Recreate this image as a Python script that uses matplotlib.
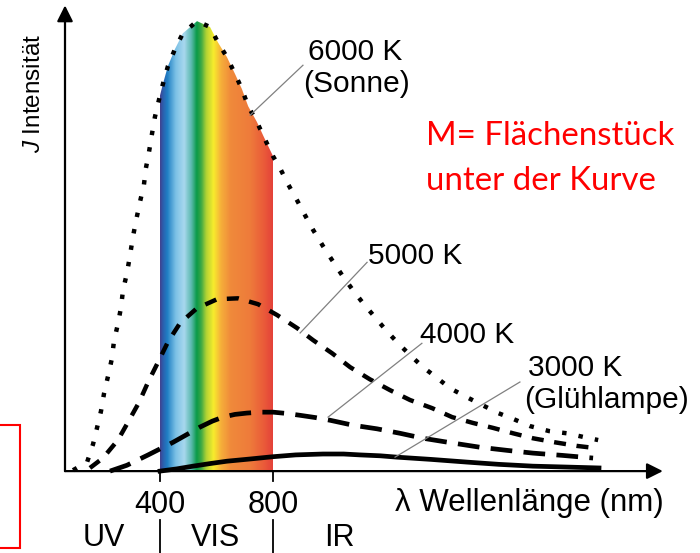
import numpy as np
import matplotlib.pyplot as plt
from matplotlib.colors import LinearSegmentedColormap
from matplotlib.patches import Rectangle

# Planck curves: wavelength (nm) and relative intensity (6000 K peak = 100)
wl_6000 = [92, 142, 163, 177, 191, 202, 216, 230, 237, 251, 262, 269, 283, 294, 304, 315,
           329, 343, 350, 361, 372, 382, 400, 411, 428, 453, 481, 531, 577, 605, 637, 666,
           690, 712, 743, 768, 800, 825, 853, 885, 913, 942, 977, 1009, 1044, 1083, 1119,
           1161, 1200, 1243, 1285, 1331, 1381, 1427, 1487, 1540, 1597, 1650, 1710, 1777,
           1841, 1898, 1951]
int_6000 = [0.2, 2.0, 6.0, 9.6, 13.3, 17.3, 21.1, 25.1, 28.9, 32.7, 36.4, 40.2, 44.0, 48.0,
            52.0, 55.6, 59.8, 63.6, 67.3, 70.9, 75.1, 78.7, 83.5, 86.2, 90.0, 93.8, 97.3,
            100.0, 98.7, 95.3, 92.0, 88.2, 84.9, 81.1, 77.6, 74.2, 70.0, 67.3, 63.8, 60.2,
            56.9, 53.6, 50.0, 46.9, 43.6, 40.2, 37.3, 34.2, 31.3, 28.4, 25.8, 23.1, 20.7,
            18.4, 16.4, 14.7, 12.9, 11.6, 10.0, 8.9, 8.4, 7.6, 6.9]

wl_5000 = [152, 198, 251, 287, 326, 358, 393, 428, 471, 531, 602, 676, 747, 814, 885, 942,
           1009, 1073, 1143, 1214, 1285, 1363, 1434, 1508, 1579, 1650, 1720, 1798, 1876, 1943]
int_5000 = [0.7, 2.9, 6.9, 10.9, 15.3, 19.8, 24.2, 28.7, 32.9, 36.2, 38.2, 38.4, 37.1, 34.7,
            31.8, 29.1, 26.2, 23.1, 20.4, 18.0, 15.8, 14.0, 12.0, 10.7, 9.6, 8.4, 7.3, 6.4,
            5.6, 5.1]

wl_4000 = [223, 283, 358, 446, 500, 542, 585, 623, 665, 708, 755, 800, 850, 896, 950, 1002,
           1083, 1168, 1250, 1331, 1430, 1533, 1630, 1720, 1823, 1933]
int_4000 = [0.0, 1.3, 3.6, 6.4, 8.3, 9.8, 11.1, 12.0, 12.6, 12.9, 13.1, 13.1, 12.8, 12.4,
            11.9, 11.3, 10.2, 9.4, 8.4, 7.3, 6.3, 5.3, 4.6, 4.0, 3.5, 2.9]

wl_3000 = [400, 460, 517, 580, 637, 720, 800, 880, 977, 1050, 1108, 1180, 1239, 1360, 1487,
           1600, 1720, 1840, 1954]
int_3000 = [0.0, 0.5, 1.1, 1.7, 2.2, 2.7, 3.2, 3.6, 3.8, 3.8, 3.6, 3.4, 3.1, 2.6, 2.0,
            1.5, 1.1, 0.9, 0.7]

# visible spectrum colour stops (nm, colour)
spec_nm = [400, 410, 425, 455, 485, 510, 530, 545, 565, 590, 615, 650, 720, 770, 800]
spec_col = ['#41418f', '#2b5fae', '#1f7fc4', '#7cc1e6', '#a8d8ee', '#5dbab0', '#0a9a48',
            '#3aa845', '#b6d433', '#f8ec2c', '#f6b13a', '#f08a3a', '#ee7b3b', '#ea5a39',
            '#e4423a']

tick_nm = [400, 800]
tick_labels = ['400', '800']
region_labels = ['UV', 'VIS', 'IR']
region_nm = [202, 595, 1034]

plt.rcParams['font.family'] = ['Liberation Sans', 'DejaVu Sans']
plt.rcParams['mathtext.fontset'] = 'custom'
plt.rcParams['mathtext.it'] = 'Liberation Sans:italic'
plt.rcParams['mathtext.rm'] = 'Liberation Sans'

fig = plt.figure(figsize=(7, 5.53), dpi=100)
ax = fig.add_axes([0, 0, 1, 1])

# spectrum under the 6000 K curve
wl = np.array(wl_6000)
it = np.array(int_6000)
sel = (wl >= 400) & (wl <= 800)
poly = ax.fill_between(wl[sel], 0, it[sel], facecolor='none', edgecolor='none')
cmap = LinearSegmentedColormap.from_list(
    'vis', [((p - 400) / 400, c) for p, c in zip(spec_nm, spec_col)])
grad = np.linspace(0, 1, 500).reshape(1, -1)
im = ax.imshow(grad, cmap=cmap, extent=(400, 800, 0, 101), aspect='auto',
               interpolation='bilinear', zorder=1)
im.set_clip_path(poly.get_paths()[0], transform=ax.transData)

# curves
ax.plot(wl_6000, int_6000, color='black', lw=3.2, ls=(0, (1, 2.75)), zorder=3)
ax.plot(wl_5000, int_5000, color='black', lw=3.2, ls=(0, (2.7, 2.4)), zorder=3)
ax.plot(wl_4000, int_4000, color='black', lw=3.4, ls=(0, (4.6, 2.4)), zorder=3)
ax.plot(wl_3000, int_3000, color='black', lw=3.4, zorder=3)

# axes with arrows
arrow = dict(arrowstyle='-|>', color='black', lw=1.6, mutation_scale=24, shrinkA=0, shrinkB=0)
ax.annotate('', xy=(2180, 0), xytext=(63.7, 0), arrowprops=arrow, zorder=4)
ax.annotate('', xy=(63.7, 103.5), xytext=(63.7, 0), arrowprops=arrow, zorder=4)

for x, lab in zip(tick_nm, tick_labels):
    ax.plot([x, x], [0, -2.3], color='black', lw=1.3)
    ax.plot([x, x], [-10.9, -18.5], color='black', lw=1.3)
    ax.text(x, -9.3, lab, ha='center', va='baseline', fontsize=22)
for x, lab in zip(region_nm, region_labels):
    ax.text(x, -16.7, lab, ha='center', va='baseline', fontsize=22)

ax.text(1232, -8.9, 'λ Wellenlänge (nm)', ha='left', va='baseline', fontsize=22.5)
ax.text(-46, 84, r'$\it{J}$ Intensität', rotation=90, ha='center', va='center',
        fontsize=17.5)

# curve labels with leader lines
lab_kw = dict(ha='left', va='baseline', fontsize=21.5)
ax.text(924, 91.3, '6000 K', **lab_kw)
ax.text(906, 84.2, '(Sonne)', **lab_kw)
ax.text(1136, 46.0, '5000 K', **lab_kw)
ax.text(1320, 28.4, '4000 K', **lab_kw)
ax.text(1703, 21.1, '3000 K', **lab_kw)
ax.text(1690, 14.0, '(Glühlampe)', **lab_kw)

lead = dict(color='#808080', lw=0.9, zorder=5)
ax.plot([719, 906], [79.1, 90.2], **lead)
ax.plot([896, 1133], [30.7, 46.4], **lead)
ax.plot([995, 1327], [12.0, 28.4], **lead)
ax.plot([1232, 1674], [3.1, 19.8], **lead)

# red note
ax.text(1342, 72.4, 'M= Flächenstück', color='red', ha='left', va='baseline',
        fontsize=23.8, family='Lato')
ax.text(1342, 62.4, 'unter der Kurve', color='red', ha='left', va='baseline',
        fontsize=23.8, family='Lato')
ax.add_patch(Rectangle((-250, -17.1), 154, 27.3, fill=False, ec='red', lw=1.5))

ax.set_xlim(-166.4, 2311.5)
ax.set_ylim(-18.2, 104.7)
ax.axis('off')

fig.savefig('out.png', dpi=100)
